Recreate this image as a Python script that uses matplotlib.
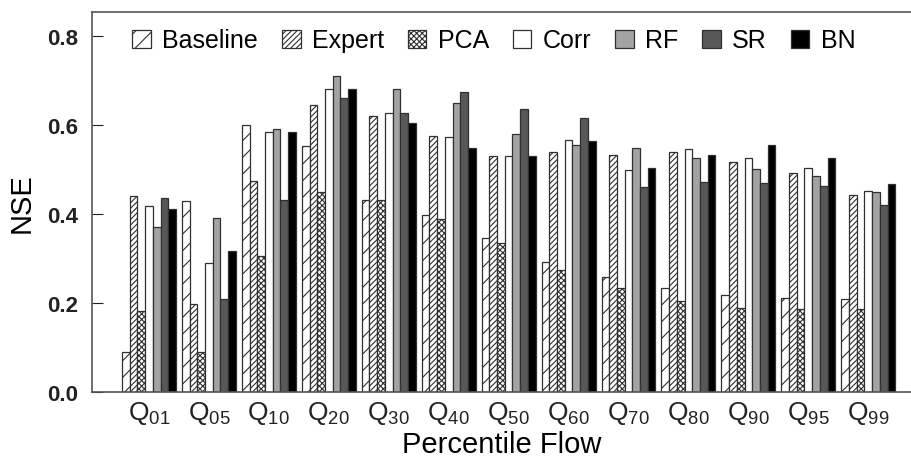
import numpy as np
import matplotlib
matplotlib.use('Agg')
import matplotlib.pyplot as plt

plt.rcParams['font.family'] = ['Liberation Sans', 'DejaVu Sans']
plt.rcParams['mathtext.fontset'] = 'custom'
plt.rcParams['mathtext.rm'] = 'Liberation Sans'
plt.rcParams['hatch.linewidth'] = 0.8

flows = ['01', '05', '10', '20', '30', '40', '50', '60', '70', '80', '90', '95', '99']
methods = ['Baseline', 'Expert', 'PCA', 'Corr', 'RF', 'SR', 'BN']

baseline = [0.091, 0.429, 0.600, 0.553, 0.432, 0.398, 0.345, 0.293, 0.258, 0.233, 0.218, 0.212, 0.209]
expert = [0.441, 0.198, 0.475, 0.646, 0.620, 0.576, 0.530, 0.539, 0.533, 0.539, 0.516, 0.492, 0.443]
pca = [0.181, 0.091, 0.305, 0.450, 0.432, 0.389, 0.334, 0.274, 0.233, 0.204, 0.189, 0.187, 0.187]
corr = [0.417, 0.291, 0.585, 0.681, 0.626, 0.573, 0.530, 0.566, 0.498, 0.546, 0.527, 0.504, 0.452]
rf = [0.371, 0.391, 0.591, 0.711, 0.682, 0.649, 0.579, 0.556, 0.548, 0.527, 0.501, 0.486, 0.449]
sr = [0.437, 0.209, 0.432, 0.661, 0.628, 0.675, 0.636, 0.616, 0.461, 0.473, 0.470, 0.464, 0.420]
bn = [0.411, 0.316, 0.585, 0.681, 0.604, 0.548, 0.530, 0.565, 0.504, 0.533, 0.556, 0.527, 0.467]

series = [baseline, expert, pca, corr, rf, sr, bn]
fills = ['white', 'white', 'white', 'white', '#a3a3a3', '#585858', 'black']
hatches = ['//', '//////', 'xxxxxx', None, None, None, None]

fig = plt.figure(figsize=(9.12, 4.64), dpi=100)
ax = fig.add_axes([92 / 912, 71 / 464, 1 - 92 / 912, 380 / 464])

x = np.arange(len(flows))
w = 0.9 / len(methods)
for i, (vals, fc, h, name) in enumerate(zip(series, fills, hatches, methods)):
    ax.bar(x - 0.45 + w * (i + 0.5), vals, w, color=fc, edgecolor='#303030',
           linewidth=0.9, hatch=h, label=name)

ax.set_xlim(-0.95, 12.73)
ax.set_ylim(0, 0.854)
ax.set_yticks([0.0, 0.2, 0.4, 0.6, 0.8])
ax.set_yticklabels(['0.0', '0.2', '0.4', '0.6', '0.8'], fontweight='bold')
ax.set_xticks(x)
ax.set_xticklabels(['Q$_{' + f + '}$' for f in flows])
ax.tick_params(axis='y', direction='in', length=8, labelsize=16, pad=10, colors='#222222')
ax.tick_params(axis='x', length=0, labelsize=19, pad=5, colors='#222222')
for s in ['left', 'top', 'bottom']:
    ax.spines[s].set_color('#555555')
    ax.spines[s].set_linewidth(1.2)
ax.spines['right'].set_visible(False)

ax.set_ylabel('NSE', fontsize=21, labelpad=8)
ax.set_xlabel('Percentile Flow', fontsize=21, labelpad=3)

ax.legend(loc='center', bbox_to_anchor=(0.49, 0.925), ncol=7, frameon=False,
          fontsize=18, handlelength=0.75, handleheight=0.75, handletextpad=0.45,
          columnspacing=0.95)

fig.savefig('out.png', dpi=100)
